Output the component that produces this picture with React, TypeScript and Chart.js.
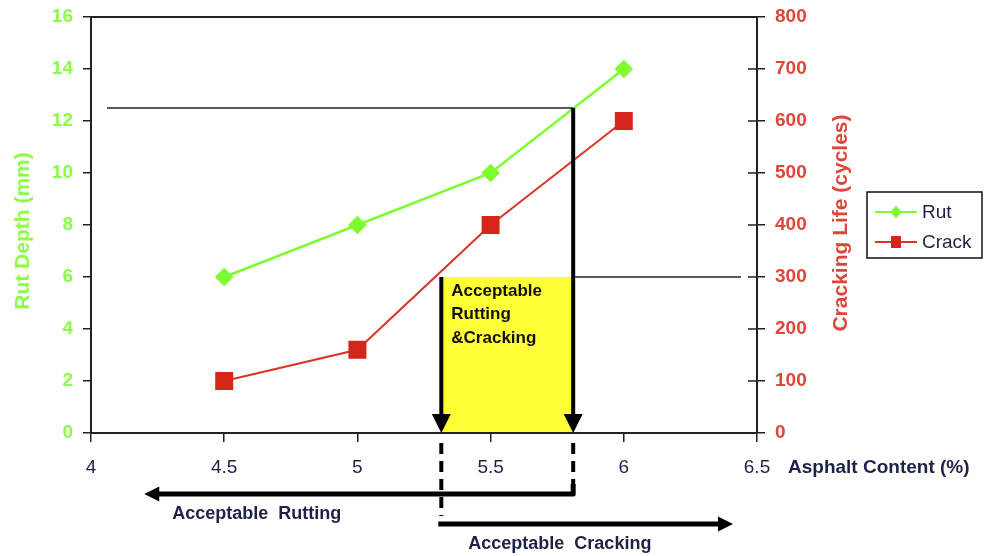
import React, { useEffect, useRef } from 'react';
import { Chart, registerables } from 'chart.js';

Chart.register(...registerables);

// ---- Data ----
const asphaltContent = [4.5, 5, 5.5, 6];
const rutDepth = [6, 8, 10, 14];
const crackingLife = [100, 160, 400, 600];

const xRange = [4, 6.5];
const rutRange = [0, 16];
const crackRange = [0, 800];
const xStep = 0.5;
const rutStep = 2;
const crackStep = 100;

// ---- Threshold annotation values ----
const rutLimitMm = 12.5;
const crackLimitCycles = 300;
const rutLimitAsphalt = 5.81;
const crackLimitAsphalt = 5.315;
const rutGuideStart = 4.06;
const crackGuideEnd = 6.44;
const rutArrowEnd = 4.2;
const crackArrowEnd = 6.41;

const boxLabel = ['Acceptable', 'Rutting', '&Cracking'];
const rutArrowLabel = 'Acceptable  Rutting';
const crackArrowLabel = 'Acceptable  Cracking';
const xTitle = 'Asphalt Content (%)';
const rutTitle = 'Rut Depth (mm)';
const crackTitle = 'Cracking Life (cycles)';
const seriesNames = ['Rut', 'Crack'];

const FONT = "'Liberation Sans', Arial, Helvetica, sans-serif";
const GREEN = '#7ffc30';
const GREEN_TXT = '#8aff45';
const RED = '#dd3324';
const RED_MARK = '#d4261a';
const RED_TXT = '#e0453a';
const INK = '#1e2248';
const AXIS = '#222222';

function arrowHead(ctx: CanvasRenderingContext2D, tx: number, ty: number, dir: 'down' | 'left' | 'right', len: number, half: number) {
  ctx.beginPath();
  if (dir === 'down') {
    ctx.moveTo(tx, ty);
    ctx.lineTo(tx - half, ty - len);
    ctx.lineTo(tx + half, ty - len);
  } else if (dir === 'left') {
    ctx.moveTo(tx, ty);
    ctx.lineTo(tx + len, ty - half);
    ctx.lineTo(tx + len, ty + half);
  } else {
    ctx.moveTo(tx, ty);
    ctx.lineTo(tx - len, ty - half);
    ctx.lineTo(tx - len, ty + half);
  }
  ctx.closePath();
  ctx.fill();
}

const annotationPlugin = {
  id: 'annotations',
  beforeDatasetsDraw(chart: any) {
    const { ctx, chartArea, scales } = chart;
    const l = scales.x.getPixelForValue(crackLimitAsphalt);
    const r = scales.x.getPixelForValue(rutLimitAsphalt);
    const t = scales.y1.getPixelForValue(crackLimitCycles);
    ctx.save();
    ctx.fillStyle = '#ffff38';
    ctx.fillRect(l, t, r - l, chartArea.bottom - 1 - t);
    ctx.restore();
  },
  afterDatasetsDraw(chart: any) {
    const { ctx, chartArea, scales } = chart;
    const xs = scales.x, ys = scales.y, y1 = scales.y1;
    const bottom = chartArea.bottom;
    const xl = xs.getPixelForValue(crackLimitAsphalt);
    const xr = xs.getPixelForValue(rutLimitAsphalt);
    const yRut = ys.getPixelForValue(rutLimitMm);
    const yCrack = y1.getPixelForValue(crackLimitCycles);
    ctx.save();
    // thin guide lines
    ctx.strokeStyle = AXIS;
    ctx.lineWidth = 1.5;
    ctx.beginPath();
    ctx.moveTo(xs.getPixelForValue(rutGuideStart), yRut);
    ctx.lineTo(xr, yRut);
    ctx.moveTo(xr, yCrack);
    ctx.lineTo(xs.getPixelForValue(crackGuideEnd), yCrack);
    ctx.stroke();
    // thick vertical arrows
    ctx.strokeStyle = '#000';
    ctx.fillStyle = '#000';
    ctx.lineWidth = 4;
    ctx.lineCap = 'butt';
    ctx.beginPath();
    ctx.moveTo(xl, yCrack);
    ctx.lineTo(xl, bottom - 12);
    ctx.moveTo(xr, yRut);
    ctx.lineTo(xr, bottom - 12);
    ctx.stroke();
    arrowHead(ctx, xl, bottom, 'down', 19, 9.5);
    arrowHead(ctx, xr, bottom, 'down', 19, 9.5);

    // dashed drop lines below axis
    const yRutArrow = bottom + 61;
    const yCrackArrow = bottom + 91;
    ctx.setLineDash([11, 7]);
    ctx.lineWidth = 4;
    ctx.beginPath();
    ctx.moveTo(xl, bottom + 10);
    ctx.lineTo(xl, yCrackArrow - 8);
    ctx.moveTo(xr, bottom + 10);
    ctx.lineTo(xr, yRutArrow - 8);
    ctx.stroke();
    ctx.setLineDash([]);

    // horizontal arrows
    ctx.lineWidth = 5;
    ctx.lineJoin = 'round';
    const xRutEnd = xs.getPixelForValue(rutArrowEnd);
    const xCrackEnd = xs.getPixelForValue(crackArrowEnd);
    ctx.beginPath();
    ctx.moveTo(xr, yRutArrow - 10);
    ctx.lineTo(xr, yRutArrow);
    ctx.lineTo(xRutEnd + 12, yRutArrow);
    ctx.stroke();
    arrowHead(ctx, xRutEnd, yRutArrow, 'left', 15, 7.5);
    ctx.beginPath();
    ctx.moveTo(xl - 3, yCrackArrow);
    ctx.lineTo(xCrackEnd - 12, yCrackArrow);
    ctx.stroke();
    arrowHead(ctx, xCrackEnd, yCrackArrow, 'right', 15, 7.5);

    // arrow labels
    ctx.fillStyle = INK;
    ctx.font = `bold 18px ${FONT}`;
    ctx.textAlign = 'left';
    ctx.textBaseline = 'middle';
    ctx.fillText(rutArrowLabel, xRutEnd + 28, yRutArrow + 20);
    ctx.fillText(crackArrowLabel, xl + 27, yCrackArrow + 20);

    // box label
    ctx.fillStyle = '#111';
    ctx.font = `bold 17px ${FONT}`;
    boxLabel.forEach((s, i) => ctx.fillText(s, xl + 10, yCrack + 14 + i * 23.5));
    ctx.restore();
  },
  afterDraw(chart: any) {
    const { ctx, chartArea, scales, data } = chart;
    ctx.save();
    // top frame line
    ctx.strokeStyle = AXIS;
    ctx.lineWidth = 2;
    ctx.beginPath();
    ctx.moveTo(chartArea.left - 1, chartArea.top);
    ctx.lineTo(chartArea.right + 1, chartArea.top);
    ctx.stroke();
    // inward half of right-axis ticks
    ctx.lineWidth = 1.5;
    ctx.beginPath();
    scales.y1.ticks.forEach((t: any) => {
      const py = scales.y1.getPixelForValue(t.value);
      ctx.moveTo(chartArea.right - 9, py);
      ctx.lineTo(chartArea.right, py);
    });
    ctx.stroke();

    // axis titles
    ctx.textBaseline = 'middle';
    ctx.textAlign = 'center';
    ctx.font = `bold 21px ${FONT}`;
    ctx.fillStyle = GREEN_TXT;
    ctx.save();
    ctx.translate(chartArea.left - 68, chartArea.top + 214);
    ctx.rotate(-Math.PI / 2);
    ctx.fillText(rutTitle, 0, 0);
    ctx.restore();
    ctx.fillStyle = RED_TXT;
    ctx.save();
    ctx.translate(chartArea.right + 84, chartArea.top + 206);
    ctx.rotate(-Math.PI / 2);
    ctx.fillText(crackTitle, 0, 0);
    ctx.restore();

    ctx.fillStyle = INK;
    ctx.textAlign = 'left';
    ctx.font = `bold 19px ${FONT}`;
    ctx.fillText(xTitle, chartArea.right + 31, chartArea.bottom + 35);

    // legend
    const lx = chartArea.right + 110;
    const ly = 192;
    const lw = 115;
    const lh = 66;
    ctx.fillStyle = '#fff';
    ctx.fillRect(lx, ly, lw, lh);
    ctx.strokeStyle = '#111';
    ctx.lineWidth = 1.5;
    ctx.strokeRect(lx, ly, lw, lh);
    data.datasets.forEach((ds: any, i: number) => {
      const cy = ly + 20 + i * 30;
      ctx.strokeStyle = ds.borderColor;
      ctx.lineWidth = 2;
      ctx.beginPath();
      ctx.moveTo(lx + 8, cy);
      ctx.lineTo(lx + 50, cy);
      ctx.stroke();
      ctx.fillStyle = ds.pointBackgroundColor;
      const cx = lx + 29;
      if (ds.pointStyle === 'rectRot') {
        ctx.beginPath();
        ctx.moveTo(cx, cy - 6);
        ctx.lineTo(cx + 6, cy);
        ctx.lineTo(cx, cy + 6);
        ctx.lineTo(cx - 6, cy);
        ctx.closePath();
        ctx.fill();
      } else {
        ctx.fillRect(cx - 5, cy - 6, 10, 12);
      }
      ctx.fillStyle = INK;
      ctx.font = `19px ${FONT}`;
      ctx.textAlign = 'left';
      ctx.fillText(ds.label, lx + 55, cy + 1);
    });
    ctx.restore();
  },
};

function fixVertical(width: number) {
  return (s: any) => {
    s.width = width;
    s.paddingTop = 0;
    s.paddingBottom = 0;
  };
}

export default function App() {
  const ref = useRef<HTMLCanvasElement>(null);
  useEffect(() => {
    if (!ref.current) return;
    const chart = new Chart(ref.current, {
      type: 'line',
      data: {
        datasets: [
          {
            label: seriesNames[0],
            data: asphaltContent.map((v, i) => ({ x: v, y: rutDepth[i] })),
            borderColor: GREEN,
            backgroundColor: GREEN,
            pointBackgroundColor: GREEN,
            pointBorderColor: GREEN,
            pointStyle: 'rectRot',
            pointRadius: 7.5,
            borderWidth: 2.5,
            yAxisID: 'y',
          },
          {
            label: seriesNames[1],
            data: asphaltContent.map((v, i) => ({ x: v, y: crackingLife[i] })),
            borderColor: RED,
            backgroundColor: RED_MARK,
            pointBackgroundColor: RED_MARK,
            pointBorderColor: RED_MARK,
            pointStyle: 'rect',
            pointRadius: 11.3,
            borderWidth: 2,
            yAxisID: 'y1',
          },
        ],
      },
      options: {
        responsive: false,
        animation: false,
        devicePixelRatio: 1,
        layout: { padding: { top: 17, left: 0, right: 0, bottom: 0 } },
        plugins: { legend: { display: false }, tooltip: { enabled: false } },
        scales: {
          x: {
            type: 'linear',
            min: xRange[0],
            max: xRange[1],
            ticks: {
              stepSize: xStep,
              color: INK,
              font: { family: FONT, size: 19 },
              padding: 14,
              maxRotation: 0,
              callback: (v: any) => String(Number(v)),
            },
            grid: { drawOnChartArea: false, drawTicks: true, tickLength: 9, color: AXIS, lineWidth: 1.5 },
            border: { display: true, color: AXIS, width: 2 },
            afterFit: (s: any) => { s.height = 123; s.paddingLeft = 0; s.paddingRight = 0; },
          },
          y: {
            type: 'linear',
            position: 'left',
            min: rutRange[0],
            max: rutRange[1],
            ticks: { stepSize: rutStep, color: GREEN_TXT, font: { family: FONT, size: 19, weight: 'bold' }, padding: 10 },
            grid: { drawOnChartArea: false, drawTicks: true, tickLength: 8, color: AXIS, lineWidth: 1.5 },
            border: { display: true, color: AXIS, width: 2 },
            afterFit: fixVertical(91),
          },
          y1: {
            type: 'linear',
            position: 'right',
            min: crackRange[0],
            max: crackRange[1],
            ticks: { stepSize: crackStep, color: RED_TXT, font: { family: FONT, size: 19, weight: 'bold' }, padding: 10 },
            grid: { drawOnChartArea: false, drawTicks: true, tickLength: 8, color: AXIS, lineWidth: 1.5 },
            border: { display: true, color: AXIS, width: 2 },
            afterFit: fixVertical(230),
          },
        },
      },
      plugins: [annotationPlugin],
    } as any);
    return () => chart.destroy();
  }, []);
  return (
    <div style={{ position: 'fixed', left: 0, top: 0, width: 987, height: 556, background: '#fff' }}>
      <canvas ref={ref} width={987} height={556} style={{ display: 'block' }} />
    </div>
  );
}
